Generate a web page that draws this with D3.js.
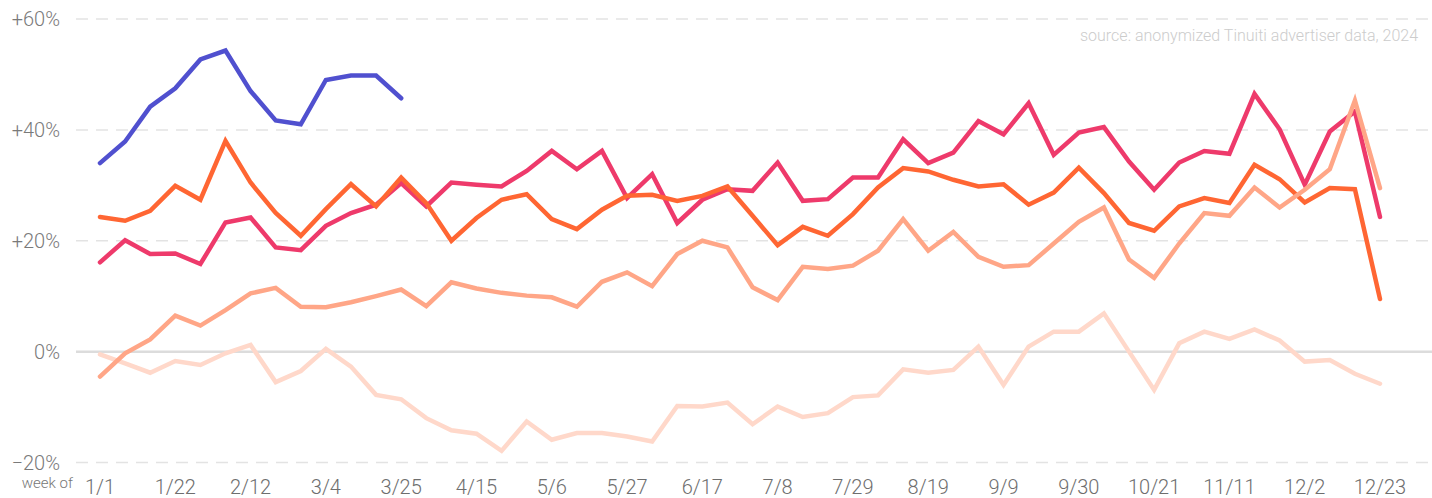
<!DOCTYPE html>
<html>
<head>
<meta charset="utf-8">
<script src="https://cdn.jsdelivr.net/npm/d3@7"></script>
<style>
  body { margin: 0; background: #fff; }
  text { font-family: Roboto, "Noto Sans", sans-serif; font-weight: 300; }
</style>
</head>
<body>
<div id="chart"></div>
<script>
// week-of labels, 2024
const weeks = ['1/1','1/8','1/15','1/22','1/29','2/5','2/12','2/19','2/26','3/4','3/11','3/18','3/25',
  '4/1','4/8','4/15','4/22','4/29','5/6','5/13','5/20','5/27','6/3','6/10','6/17','6/24',
  '7/1','7/8','7/15','7/22','7/29','8/5','8/12','8/19','8/26','9/2','9/9','9/16','9/23','9/30',
  '10/7','10/14','10/21','10/28','11/4','11/11','11/18','11/25','12/2','12/9','12/16','12/23'];
const tickWeeks = ['1/1','1/22','2/12','3/4','3/25','4/15','5/6','5/27','6/17','7/8','7/29','8/19',
  '9/9','9/30','10/21','11/11','12/2','12/23'];
const yTicks = [-20, 0, 20, 40, 60];

// yoy change, %
const lightest = [-0.5, -2.1, -3.8, -1.7, -2.4, -0.3, 1.2, -5.5, -3.5, 0.5,
  -2.7, -7.8, -8.6, -12.0, -14.2, -14.8, -17.9, -12.6, -15.9, -14.7,
  -14.7, -15.3, -16.2, -9.8, -9.9, -9.2, -13.1, -9.9, -11.8, -11.1,
  -8.2, -7.9, -3.2, -3.8, -3.3, 0.9, -6.0, 0.9, 3.6, 3.6,
  6.9, 0.0, -6.9, 1.5, 3.6, 2.3, 4.0, 2.0, -1.8, -1.5,
  -4.0, -5.8];
const magenta = [16.1, 20.1, 17.6, 17.7, 15.8, 23.3, 24.2, 18.8, 18.3, 22.7,
  25.0, 26.5, 30.4, 26.2, 30.5, 30.1, 29.8, 32.6, 36.2, 32.9,
  36.2, 27.7, 32.0, 23.2, 27.4, 29.3, 29.0, 34.1, 27.2, 27.5,
  31.4, 31.4, 38.3, 34.0, 35.9, 41.6, 39.2, 44.8, 35.5, 39.5,
  40.5, 34.3, 29.2, 34.1, 36.2, 35.7, 46.5, 40.1, 30.1, 39.7,
  43.3, 24.3];
const orange = [24.3, 23.6, 25.4, 29.9, 27.4, 38.0, 30.5, 25.0, 20.9, 25.7,
  30.2, 26.2, 31.4, 26.8, 20.0, 24.1, 27.4, 28.4, 23.9, 22.1,
  25.6, 28.1, 28.3, 27.2, 28.1, 29.8, 24.5, 19.2, 22.5, 20.9,
  24.8, 29.6, 33.1, 32.5, 31.0, 29.8, 30.2, 26.5, 28.7, 33.2,
  28.6, 23.2, 21.8, 26.2, 27.7, 26.8, 33.7, 31.1, 26.9, 29.5,
  29.3, 9.5];
const salmon = [-4.5, -0.3, 2.2, 6.5, 4.7, 7.5, 10.5, 11.5, 8.1, 8.0,
  8.9, 10.0, 11.2, 8.2, 12.5, 11.4, 10.6, 10.1, 9.8, 8.1,
  12.6, 14.3, 11.8, 17.6, 20.0, 18.8, 11.6, 9.3, 15.3, 14.9,
  15.5, 18.2, 23.9, 18.2, 21.6, 17.1, 15.3, 15.6, 19.5, 23.4,
  26.0, 16.6, 13.3, 19.5, 25.0, 24.5, 29.6, 26.0, 29.2, 32.9,
  45.3, 29.5];
const blue = [34.0, 37.9, 44.2, 47.5, 52.7, 54.3, 47.0, 41.7, 41.0, 49.0, 49.8, 49.8, 45.7];

class TrendChart {
  constructor(_config) {
    this.config = {
      parentElement: _config.parentElement,
      containerWidth: 1432,
      containerHeight: 498,
      margin: {top: 19, right: 52, bottom: 35, left: 100}
    }
    this.initVis();
  }

  initVis() {
    let vis = this;
    vis.width = vis.config.containerWidth - vis.config.margin.left - vis.config.margin.right;
    vis.height = vis.config.containerHeight - vis.config.margin.top - vis.config.margin.bottom;

    vis.svg = d3.select(vis.config.parentElement)
      .append('svg')
      .attr('width', vis.config.containerWidth)
      .attr('height', vis.config.containerHeight);

    vis.chart = vis.svg.append('g')
      .attr('transform', `translate(${vis.config.margin.left},${vis.config.margin.top})`);

    vis.xScale = d3.scalePoint()
      .domain(weeks)
      .range([0, vis.width]);

    vis.yScale = d3.scaleLinear()
      .domain([-20, 60])
      .range([vis.height - 0.5, 0]);

    // draw order: lightest at the back
    vis.series = [
      {key: 'lightest', values: lightest, color: '#ffd8ca'},
      {key: 'magenta', values: magenta, color: '#ee3a6b'},
      {key: 'orange', values: orange, color: '#ff6633'},
      {key: 'salmon', values: salmon, color: '#ffa687'},
      {key: 'blue', values: blue, color: '#5050cf'}
    ];
    vis.renderVis();
  }

  renderVis() {
    let vis = this;

    // gridlines span past the plot to the right edge
    vis.chart.append('g')
      .attr('class', 'grid')
      .selectAll('line')
      .data(yTicks)
      .join('line')
      .attr('x1', -24)
      .attr('x2', vis.config.containerWidth - vis.config.margin.left)
      .attr('y1', d => vis.yScale(d))
      .attr('y2', d => vis.yScale(d))
      .attr('stroke', d => d === 0 ? '#dcdcdc' : '#e3e3e3')
      .attr('stroke-width', d => d === 0 ? 2.5 : 1.5)
      .attr('stroke-dasharray', d => d === 0 ? null : '12,8');

    vis.chart.append('g')
      .attr('class', 'y-labels')
      .selectAll('text')
      .data(yTicks)
      .join('text')
      .attr('x', -40)
      .attr('y', d => vis.yScale(d))
      .attr('dy', '0.36em')
      .attr('text-anchor', 'end')
      .attr('fill', '#7a7a7a')
      .style('font-size', '20px')
      .text(d => d > 0 ? `+${d}%` : d < 0 ? `\u2212${Math.abs(d)}%` : '0%');

    vis.chart.append('g')
      .attr('class', 'x-labels')
      .selectAll('text')
      .data(tickWeeks)
      .join('text')
      .attr('x', d => vis.xScale(d))
      .attr('y', vis.height + 31)
      .attr('text-anchor', 'middle')
      .attr('fill', '#6e6e6e')
      .style('font-size', '20px')
      .text(d => d);

    vis.svg.append('text')
      .attr('x', 73)
      .attr('y', 488)
      .attr('text-anchor', 'end')
      .attr('fill', '#777')
      .style('font-size', '15px')
      .text('week of');

    vis.svg.append('text')
      .attr('x', 1418)
      .attr('y', 41)
      .attr('text-anchor', 'end')
      .attr('fill', '#cccccc')
      .style('font-size', '16px')
      .text('source: anonymized Tinuiti advertiser data, 2024');

    const line = d3.line()
      .x((d, i) => vis.xScale(weeks[i]))
      .y(d => vis.yScale(d));

    vis.chart.append('g')
      .attr('class', 'lines')
      .selectAll('path')
      .data(vis.series)
      .join('path')
      .attr('fill', 'none')
      .attr('stroke', d => d.color)
      .attr('stroke-width', 4.5)
      .attr('stroke-linejoin', 'miter')
      .attr('stroke-linecap', 'round')
      .attr('d', d => line(d.values));
  }
}

new TrendChart({parentElement: '#chart'});
</script>
</body>
</html>
